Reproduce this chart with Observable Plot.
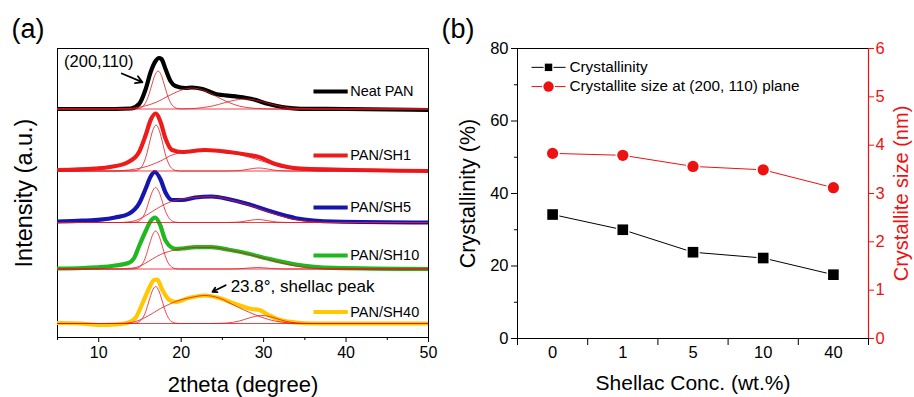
<!DOCTYPE html>
<html><head><meta charset="utf-8">
<script src="https://cdn.jsdelivr.net/npm/d3@7"></script>
<script src="https://cdn.jsdelivr.net/npm/@observablehq/plot@0.6"></script>
<style>
html,body{margin:0;padding:0;background:#fff;}
#wrap{position:relative;width:914px;height:397px;overflow:hidden;background:#fff;}
#a{position:absolute;left:0;top:0;}
#b{position:absolute;left:440px;top:0;}
</style></head><body><div id="wrap"><div id="a"></div><div id="b"></div></div>
<script>
// ---------------- Panel (a) data: XRD patterns [2theta (deg), intensity (a.u.)] ----------------
const sampleNames = ["Neat PAN", "PAN/SH1", "PAN/SH5", "PAN/SH10", "PAN/SH40"];
const sampleOffsets = [228.5, 166.5, 115, 68.5, 14];
const legendLabelY = [246, 182, 130, 82, 25.5];
const xTicksA = [10, 20, 30, 40, 50];
const xMinorTicksA = [5, 15, 25, 35, 45];

const neatMain = [[5,0],[10,0],[13.9,0.5],[14.9,5],[15.7,20],[16.3,37],[16.9,48],[17.3,51],[17.6,50],[18.1,40],[18.7,28],[19.3,23],[20.5,21],[21.3,21.5],[22.6,20],[24.2,15],[26.6,12.7],[28.6,10],[30.6,5],[32.7,1.3],[34.5,0.2],[40,0],[50,-1]];
const neatFits = [
  [[5,0],[14.2,0],[14.8,0.4],[15.2,1.7],[15.6,5.1],[16.0,12.3],[16.4,23],[16.8,33.5],[17.2,38],[17.6,33.5],[18.0,23],[18.4,12.3],[18.8,5.1],[19.2,1.7],[19.6,0.4],[20.2,0],[50,0]],
  [[5,0],[11.5,0],[12.6,0.2],[14.1,0.9],[15.5,2.8],[17.0,6.8],[18.4,12.8],[19.9,18.5],[21.3,21],[22.8,18.5],[24.2,12.8],[25.7,6.8],[27.1,2.8],[28.6,0.9],[30.0,0.2],[31,0],[50,0]],
  [[5,0],[19,0],[20.0,0.1],[21.3,0.4],[22.6,1.4],[23.9,3.2],[25.2,6.1],[26.5,8.8],[27.8,10],[29.1,8.8],[30.4,6.1],[31.7,3.2],[33.0,1.4],[34.3,0.4],[35.6,0.1],[36.5,0],[50,0]]
];
const sh1Main = [[5,1],[9.6,2.5],[11.4,4],[13.6,9],[14.9,19],[15.7,36],[16.3,51],[16.9,57.5],[17.5,49],[18.1,32.5],[18.9,21],[20.1,19],[22.9,21],[25.8,19],[28.2,16],[29.4,14],[31.4,7],[32.9,4],[34.5,2.5],[38.5,1.5],[50,0]];
const sh1Fits = [
  [[5,0],[14,0],[14.55,0.5],[14.95,2.0],[15.35,6.2],[15.75,14.8],[16.15,28],[16.55,40.5],[16.95,46],[17.35,40.5],[17.75,28],[18.15,14.8],[18.55,6.2],[18.95,2.0],[19.35,0.5],[20,0],[50,0]],
  [[5,0],[12,0],[13,0.5],[14.5,2],[16,5],[17.5,10],[18.9,16],[20.1,18.5],[22.9,20.5],[25.8,18.5],[28.2,14],[29.4,11],[31.4,6],[32.9,3],[34.5,1],[36,0.2],[37,0],[50,0]],
  [[5,0],[25.5,0],[26.4,0.2],[27.0,0.4],[27.6,1.0],[28.2,1.8],[28.8,2.6],[29.4,3],[30.0,2.6],[30.6,1.8],[31.2,1.0],[31.8,0.4],[32.4,0.2],[33.3,0],[50,0]]
];
const sh5Main = [[5,1],[8,1.8],[10.2,2.8],[12,5],[13.6,8.5],[14.9,19],[15.7,34],[16.3,46],[16.8,50.5],[17.5,43],[18.1,30],[18.9,22.5],[20.1,22.5],[21.7,25],[23.7,26],[25.8,23.3],[28.2,18.3],[30.6,11.7],[32.7,6.7],[33.9,4.3],[38.5,1],[50,0]];
const sh5Fits = [
  [[5,0],[13.9,0],[14.5,0.4],[14.9,1.5],[15.3,4.7],[15.7,11.2],[16.1,21.4],[16.5,30.8],[16.9,35],[17.3,30.8],[17.7,21.4],[18.1,11.2],[18.5,4.7],[18.9,1.5],[19.3,0.4],[19.9,0],[50,0]],
  [[5,0],[12.5,0],[13.5,0.5],[14.5,2],[15.5,6],[16.5,11],[17.5,16],[18.5,20],[19.5,22.5],[21.7,25],[23.7,26],[25.8,23],[28.2,17.5],[30.6,10.5],[32.7,5],[34.5,2],[36.5,0.5],[38,0],[50,0]],
  [[5,0],[25.5,0],[26.3,0.2],[26.9,0.4],[27.5,1.0],[28.1,1.8],[28.7,2.6],[29.3,3],[29.9,2.6],[30.5,1.8],[31.1,1.0],[31.7,0.4],[32.3,0.2],[33.2,0],[50,0]]
];
const sh10Main = [[5,0.5],[8,1],[10.2,1.8],[12,3.5],[13.6,6],[14.3,11],[14.9,23],[15.7,38],[16.3,48],[16.85,51.5],[17.4,45],[18.1,28.5],[19.3,20.2],[20.1,20.5],[21.7,21.8],[23.7,21.8],[25.8,19.2],[28.2,15.2],[30.6,10.2],[33.9,4.5],[38.5,1.2],[50,0]];
const sh10Fits = [
  [[5,0],[13.9,0],[14.5,0.4],[14.9,1.7],[15.3,5.1],[15.7,12.2],[16.1,23.2],[16.5,33.4],[16.9,38],[17.3,33.4],[17.7,23.2],[18.1,12.2],[18.5,5.1],[18.9,1.7],[19.3,0.4],[19.9,0],[50,0]],
  [[5,0],[12.5,0],[13.5,0.5],[14.5,1.5],[15.5,5],[16.5,10],[17.5,14.5],[18.5,17.5],[19.5,19.5],[21.7,21.5],[23.7,21.5],[25.8,19],[28.2,14.5],[30.6,9.5],[33,4.5],[35,1.5],[37,0.4],[38.5,0],[50,0]],
  [[5,0],[26,0],[27.5,0.5],[29.3,1.5],[31,0.5],[32.5,0],[50,0]]
];
const sh40Main = [[5,0.5],[7.8,0],[10.2,-1.5],[12,-1],[13.6,1],[14.5,6],[15.3,20],[16.1,35],[16.7,43.5],[17.1,44],[17.7,34],[18.5,24],[19.3,21.5],[20.9,25.5],[22.9,28],[24.6,25.5],[26.6,19.5],[28.6,14.5],[29.5,13.5],[30.6,8.5],[31.5,5],[32.3,3],[33.9,1],[36,0],[50,0]];
const sh40Fits = [
  [[5,0],[13.9,0],[14.5,0.4],[14.9,1.6],[15.3,5.0],[15.7,11.8],[16.1,22.6],[16.5,32.6],[16.9,37],[17.3,32.6],[17.7,22.6],[18.1,11.8],[18.5,5.0],[18.9,1.6],[19.3,0.4],[19.9,0],[50,0]],
  [[5,0],[12.5,0],[13.5,0.5],[14.5,2],[15.5,5.5],[16.5,10],[17.5,15],[18.5,19],[19.5,22.5],[20.9,25.5],[22.9,28],[24.6,25.5],[26.6,17.5],[28.6,10],[30.6,4],[32.3,1.2],[34,0.2],[35,0],[50,0]],
  [[5,0],[23.4,0],[24.4,0.1],[25.3,0.35],[26.2,1.1],[27.1,2.6],[28.0,4.9],[28.9,7.0],[29.8,8],[30.7,7.0],[31.6,4.9],[32.5,2.6],[33.4,1.1],[34.3,0.35],[35.2,0.1],[36.2,0],[50,0]]
];
const mainCurves = [neatMain, sh1Main, sh5Main, sh10Main, sh40Main];
const fitCurves = [neatFits, sh1Fits, sh5Fits, sh10Fits, sh40Fits];

// ---------------- Panel (b) data ----------------
const concLabels = ["0", "1", "5", "10", "40"];
const crystallinity = [34.2, 30.0, 23.8, 22.2, 17.6];
const crystalliteSize = [3.83, 3.79, 3.56, 3.49, 3.12];
const leftTicksB = [0, 20, 40, 60, 80];
const leftMinorTicksB = [10, 30, 50, 70];
const rightTicksB = [0, 1, 2, 3, 4, 5, 6];

// ---------------- Styles ----------------
const FONT = "'Liberation Sans', Arial, Helvetica, sans-serif";
const sampleColors = ["#000000", "#ee1b1b", "#1515b0", "#1fb81f", "#ffc800"];
const RED = "#ee1111";
const FIT_RED = "#e8141c";

// ---------------- Panel (a) ----------------
const marksA = [Plot.frame({stroke: "black", strokeWidth: 1})];
mainCurves.forEach((c, i) => {
  marksA.push(Plot.line(c, {x: d => d[0], y: d => d[1] + sampleOffsets[i], stroke: sampleColors[i], strokeWidth: 4.2, curve: "monotone-x", clip: true}));
});
fitCurves.forEach((fits, i) => {
  fits.forEach(f => marksA.push(Plot.line(f, {x: d => d[0], y: d => d[1] + sampleOffsets[i], stroke: FIT_RED, strokeWidth: 0.8, curve: "monotone-x", clip: true})));
});
sampleNames.forEach((name, i) => {
  marksA.push(Plot.link([name], {x1: 36.05, x2: 40.2, y1: legendLabelY[i], y2: legendLabelY[i], stroke: sampleColors[i], strokeWidth: 4.2}));
  marksA.push(Plot.text([name], {x: 40.5, y: legendLabelY[i], text: d => d, textAnchor: "start", lineAnchor: "middle", fontSize: 14.5, fill: "black"}));
});
// annotations
marksA.push(Plot.text(["(200,110)"], {x: 5.8, y: 275.3, text: d => d, textAnchor: "start", lineAnchor: "middle", fontSize: 16.5, fill: "black"}));
marksA.push(Plot.arrow([0], {x1: 12.8, y1: 264, x2: 15.3, y2: 255.3, stroke: "black", strokeWidth: 1.8, headLength: 7}));
marksA.push(Plot.text(["23.8°, shellac peak"], {x: 26.0, y: 51.3, text: d => d, textAnchor: "start", lineAnchor: "middle", fontSize: 17, fill: "black"}));
marksA.push(Plot.arrow([0], {x1: 25.4, y1: 52.3, x2: 23.8, y2: 45.7, stroke: "black", strokeWidth: 1.8, headLength: 7}));
// axes
marksA.push(Plot.axisX(xTicksA, {tickSize: 5, tickPadding: 4, fontSize: 16, label: null}));
marksA.push(Plot.axisX(xMinorTicksA, {tickSize: 3, tickFormat: () => "", label: null}));
marksA.push(Plot.text(["2theta (degree)"], {frameAnchor: "bottom", dy: 47, text: d => d, textAnchor: "middle", lineAnchor: "middle", fontSize: 22, fill: "black"}));
marksA.push(Plot.text(["Intensity (a.u.)"], {frameAnchor: "left", dx: -33, rotate: -90, text: d => d, textAnchor: "middle", lineAnchor: "middle", fontSize: 23.5, fill: "black"}));
marksA.push(Plot.text(["(a)"], {frameAnchor: "top-left", dx: -46, dy: -19, text: d => d, textAnchor: "start", lineAnchor: "middle", fontSize: 27, fill: "black"}));

const plotA = Plot.plot({
  width: 440, height: 397,
  marginLeft: 57, marginRight: 12, marginTop: 48, marginBottom: 60,
  x: {domain: [5, 50], axis: null},
  y: {domain: [0, 289], axis: null},
  style: {fontFamily: FONT, color: "black", background: "white", overflow: "visible"},
  marks: marksA
});
document.getElementById("a").appendChild(plotA);

// ---------------- Panel (b) ----------------
const k = 80 / 6;
const idx = d3.range(concLabels.length);
const xDomB = [-0.5, concLabels.length - 0.5];
const marksB = [
  Plot.frame({stroke: "black", strokeWidth: 1}),
  Plot.ruleX([xDomB[1]], {stroke: RED, strokeWidth: 1.2}),
  Plot.axisY(leftTicksB, {anchor: "left", tickSize: 6, tickPadding: 3, fontSize: 16.5, label: null}),
  Plot.axisY(leftMinorTicksB, {anchor: "left", tickSize: 3, tickFormat: () => "", label: null}),
  Plot.axisY(rightTicksB.map(v => v * k), {anchor: "right", tickSize: 5, tickPadding: 2, fontSize: 16.5, tickFormat: v => String(Math.round(v / k)), color: RED, label: null}),
  Plot.axisX(idx, {tickSize: 0, tickPadding: 8, fontSize: 16.5, tickFormat: i => concLabels[i], label: null}),
  Plot.axisX(d3.range(concLabels.length + 1).map(i => i - 0.5), {tickSize: 7, tickFormat: () => "", label: null}),
  // data lines
  Plot.line(idx, {x: i => i, y: i => crystallinity[i], stroke: "black", strokeWidth: 1}),
  Plot.line(idx, {x: i => i, y: i => crystalliteSize[i] * k, stroke: RED, strokeWidth: 1}),
  // halos + markers
  Plot.dot(idx, {x: i => i, y: i => crystallinity[i], symbol: "square", r: 7.6, fill: "white"}),
  Plot.dot(idx, {x: i => i, y: i => crystallinity[i], symbol: "square", r: 6.0, fill: "black"}),
  Plot.dot(idx, {x: i => i, y: i => crystalliteSize[i] * k, r: 7.2, fill: "white"}),
  Plot.dot(idx, {x: i => i, y: i => crystalliteSize[i] * k, r: 5.6, fill: RED}),
  // legend
  Plot.link([0], {x1: -0.30, x2: 0.185, y1: 74.8, y2: 74.8, stroke: "black", strokeWidth: 1}),
  Plot.dot([0], {x: -0.058, y: 74.8, symbol: "square", r: 5.6, fill: "white"}),
  Plot.dot([0], {x: -0.058, y: 74.8, symbol: "square", r: 4.2, fill: "black"}),
  Plot.text(["Crystallinity"], {x: 0.24, y: 74.8, text: d => d, textAnchor: "start", lineAnchor: "middle", fontSize: 15.3, fill: "black"}),
  Plot.link([0], {x1: -0.30, x2: 0.185, y1: 69.5, y2: 69.5, stroke: RED, strokeWidth: 1}),
  Plot.dot([0], {x: -0.058, y: 69.5, r: 6.5, fill: "white"}),
  Plot.dot([0], {x: -0.058, y: 69.5, r: 5.2, fill: RED}),
  Plot.text(["Crystallite size at (200, 110) plane"], {x: 0.24, y: 69.5, text: d => d, textAnchor: "start", lineAnchor: "middle", fontSize: 15.3, fill: "black"}),
  // titles
  Plot.text(["Shellac Conc. (wt.%)"], {frameAnchor: "bottom", dy: 45, text: d => d, textAnchor: "middle", lineAnchor: "middle", fontSize: 21, fill: "black"}),
  Plot.text(["Crystallinity (%)"], {frameAnchor: "left", dx: -49, rotate: -90, text: d => d, textAnchor: "middle", lineAnchor: "middle", fontSize: 21.5, fill: "black"}),
  Plot.text(["Crystallite size (nm)"], {frameAnchor: "right", dx: 33, rotate: -90, text: d => d, textAnchor: "middle", lineAnchor: "middle", fontSize: 20, fill: RED}),
  Plot.text(["(b)"], {frameAnchor: "top-left", dx: -76, dy: -19, text: d => d, textAnchor: "start", lineAnchor: "middle", fontSize: 27, fill: "black"})
];
const plotB = Plot.plot({
  width: 474, height: 397,
  marginLeft: 77, marginRight: 46, marginTop: 48, marginBottom: 59,
  x: {domain: xDomB, axis: null},
  y: {domain: [0, 80], axis: null},
  style: {fontFamily: FONT, color: "black", background: "white", overflow: "visible"},
  marks: marksB
});
document.getElementById("b").appendChild(plotB);
</script></body></html>
